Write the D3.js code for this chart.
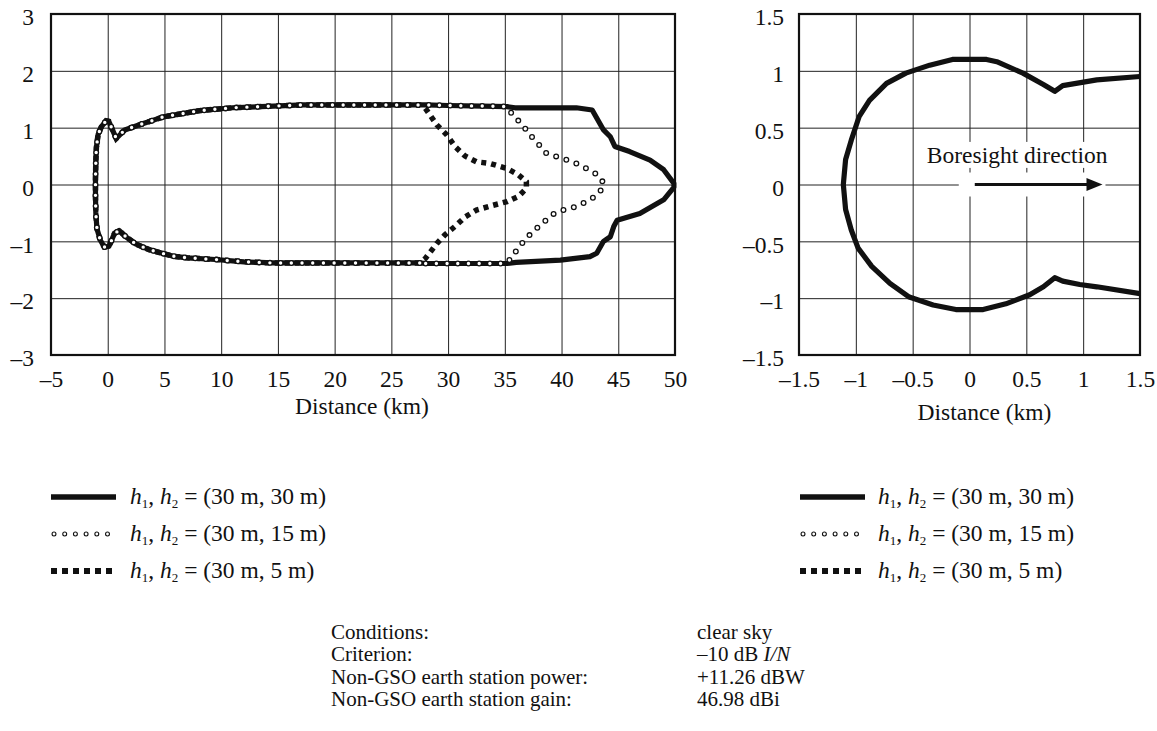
<!DOCTYPE html>
<html lang="en">
<head>
<meta charset="UTF-8" />
<title>Interference contours</title>
<script src="https://cdn.jsdelivr.net/npm/d3@7"></script>
<style>
  body { margin: 0; background: #fff; }
  svg { display: block; background: #fff; font-family: "Liberation Serif", "Times New Roman", serif; fill: #111; }
  .tick text { font-size: 23.5px; fill: #111; }
  .grid line { stroke: #222; stroke-width: 1; }
  .frame { fill: none; stroke: #111; stroke-width: 2.2; }
  .txt { font-size: 23.5px; fill: #111; }
</style>
</head>
<body>
<div id="chart"></div>
<script>
// ---- data (km) ----
// part shared by all three contours, from lower branch round the nose to upper branch
const noseCommon = [
  [27.5, -1.38], [20, -1.38], [14.5, -1.38], [12, -1.36], [9.5, -1.32], [7, -1.29], [5.7, -1.26],
  [3.7, -1.15], [2.5, -1.05], [1.6, -0.92], [1.0, -0.81], [0.6, -0.86], [0.3, -1.0], [0.1, -1.09],
  [-0.3, -1.1], [-0.65, -0.98], [-0.95, -0.78], [-1.05, -0.5], [-1.08, -0.2], [-1.08, 0.1],
  [-1.05, 0.4], [-1.0, 0.65], [-0.85, 0.88], [-0.55, 1.02], [-0.15, 1.12], [0.1, 1.11],
  [0.4, 0.97], [0.75, 0.81], [1.1, 0.88], [1.5, 0.96], [2.8, 1.05], [4.9, 1.19], [8.1, 1.3],
  [11, 1.35], [14.6, 1.38], [17.2, 1.4], [27.5, 1.4]
];
// shared by 30 m and 15 m contours
const upperMid = [[28, 1.4], [30, 1.39], [33, 1.38], [35.2, 1.37]];
const lowerMid = [[35.2, -1.39], [33, -1.39], [30, -1.39], [28, -1.39]];

const tail30 = [
  [35.9, 1.35], [41.3, 1.35], [42.7, 1.31], [43.7, 0.96], [44.3, 0.84], [44.7, 0.67], [46, 0.58],
  [47.8, 0.43], [49, 0.26], [49.9, 0.02], [49.9, -0.05], [49, -0.27], [46.9, -0.51], [44.9, -0.63],
  [44.6, -0.74], [44.3, -0.92], [43.7, -1.0], [43.1, -1.21], [42.5, -1.27], [39.9, -1.33], [36, -1.37]
];
const tail15 = [
  [35.6, 1.25], [36.3, 1.1], [36.9, 0.96], [37.5, 0.81], [38.1, 0.68], [38.7, 0.54], [39.6, 0.49],
  [40.5, 0.43], [41.3, 0.37], [42.2, 0.28], [43.1, 0.18], [43.7, 0.03], [43.7, -0.05], [42.96, -0.21],
  [42.2, -0.3], [41.3, -0.39], [40.3, -0.44], [39.4, -0.5], [38.2, -0.7], [37.5, -0.83], [36.8, -0.96],
  [36.2, -1.12], [35.6, -1.27]
];
const tail5 = [
  [28.0, 1.34], [29.0, 1.05], [29.9, 0.87], [30.6, 0.67], [31.5, 0.5], [32.5, 0.4], [33.7, 0.37],
  [35.2, 0.28], [36.2, 0.17], [36.9, 0.05], [36.9, -0.07], [36.2, -0.21], [35.2, -0.3], [33.7, -0.38],
  [32.5, -0.45], [31.5, -0.57], [30.6, -0.74], [29.7, -0.89], [29.0, -1.04], [28.0, -1.3]
];

const contour30 = [...noseCommon, ...upperMid, ...tail30, ...lowerMid];
const contour15 = [...noseCommon, ...upperMid, ...tail15, ...lowerMid];
const contour5 = [...noseCommon, ...tail5];

// zoomed panel (all three heights coincide)
const closeContour = [
  [1.5, 0.95], [1.12, 0.92], [0.82, 0.87], [0.75, 0.82], [0.65, 0.88], [0.47, 0.98], [0.24, 1.08],
  [0.15, 1.1], [-0.15, 1.1], [-0.35, 1.05], [-0.56, 0.98], [-0.73, 0.89], [-0.88, 0.74], [-0.97, 0.6],
  [-1.04, 0.39], [-1.09, 0.22], [-1.11, 0.0], [-1.09, -0.22], [-1.04, -0.4], [-0.98, -0.56],
  [-0.86, -0.72], [-0.7, -0.87], [-0.53, -0.99], [-0.32, -1.06], [-0.12, -1.1], [0.12, -1.1],
  [0.32, -1.05], [0.53, -0.97], [0.65, -0.9], [0.75, -0.82], [0.82, -0.85], [0.97, -0.88],
  [1.12, -0.9], [1.5, -0.96]
];

const leftXTicks = d3.range(-5, 51, 5);
const leftYTicks = [-3, -2, -1, 0, 1, 2, 3];
const rightTicks = [-1.5, -1, -0.5, 0, 0.5, 1, 1.5];

const arrowFrom = [0.02, 0];
const arrowTo = [1.17, 0];
const arrowLabel = "Boresight direction";
const arrowLabelAt = [0.42, 0.19];

const axisTitle = "Distance (km)";
const legendLabels = ["(30 m, 30 m)", "(30 m, 15 m)", "(30 m, 5 m)"];
const legendStyles = ["solid", "circles", "squares"];
const noteLabels = ["Conditions:", "Criterion:", "Non-GSO earth station power:", "Non-GSO earth station gain:"];
const noteValues = ["clear sky", "–10 dB |I/N", "+11.26 dBW", "46.98 dBi"];

// ---- drawing ----
const W = 1157, H = 731;
const svg = d3.select("#chart").append("svg").attr("width", W).attr("height", H);

const fmt = d => (d < 0 ? "\u2013" : "") + Math.abs(d);

function panel(opt) {
  const w = opt.width, h = opt.height;
  const g = svg.append("g").attr("transform", `translate(${opt.left},${opt.top})`);
  const x = d3.scaleLinear().domain(opt.xDomain).range([0, w]);
  const y = d3.scaleLinear().domain(opt.yDomain).range([h, 0]);

  g.append("g").attr("class", "grid").attr("transform", `translate(0,${h})`)
    .call(d3.axisBottom(x).tickValues(opt.xTicks).tickSize(-h).tickFormat(""))
    .call(a => a.select(".domain").remove());
  g.append("g").attr("class", "grid")
    .call(d3.axisLeft(y).tickValues(opt.yTicks).tickSize(-w).tickFormat(""))
    .call(a => a.select(".domain").remove());

  g.append("g").attr("transform", `translate(0,${h})`)
    .call(d3.axisBottom(x).tickValues(opt.xTicks).tickSize(0).tickPadding(15).tickFormat(fmt))
    .call(a => a.select(".domain").remove())
    .attr("font-family", null).attr("font-size", null);
  g.append("g")
    .call(d3.axisLeft(y).tickValues(opt.yTicks).tickSize(0).tickPadding(opt.yPad).tickFormat(fmt))
    .call(a => a.select(".domain").remove())
    .attr("font-family", null).attr("font-size", null)
    .selectAll("text").attr("dy", "0.46em");

  g.append("text").attr("class", "txt")
    .attr("x", w / 2 + opt.titleShift).attr("y", opt.titleY)
    .attr("text-anchor", "middle").text(axisTitle);

  return { g, x, y, w, h };
}

const L = panel({ left: 51, top: 14, width: 624, height: 341, xDomain: [-5, 50], yDomain: [-3, 3],
  xTicks: leftXTicks, yTicks: leftYTicks, yPad: 17, titleY: 400, titleShift: -1 });
const R = panel({ left: 799, top: 14, width: 341, height: 341, xDomain: [-1.5, 1.5], yDomain: [-1.5, 1.5],
  xTicks: rightTicks, yTicks: rightTicks, yPad: 15, titleY: 406, titleShift: 15 });

function drawSeries(P, pts, style, closed) {
  const line = d3.line().x(d => P.x(d[0])).y(d => P.y(d[1]));
  const dpath = line(pts) + (closed ? "Z" : "");
  if (style === "solid") {
    P.g.append("path").attr("d", dpath).attr("fill", "none").attr("stroke", "#111")
      .attr("stroke-width", 5.2).attr("stroke-linejoin", "round");
  } else if (style === "squares") {
    P.g.append("path").attr("d", dpath).attr("fill", "none").attr("stroke", "#111")
      .attr("stroke-width", 5.5).attr("stroke-dasharray", "5 5");
  } else {
    P.g.append("path").attr("d", dpath).attr("fill", "none").attr("stroke", "#111")
      .attr("stroke-width", 6).attr("stroke-linecap", "round").attr("stroke-dasharray", "0 10.7");
    P.g.append("path").attr("d", dpath).attr("fill", "none").attr("stroke", "#fff")
      .attr("stroke-width", 3.4).attr("stroke-linecap", "round").attr("stroke-dasharray", "0 10.7");
  }
}

drawSeries(L, contour30, "solid", true);
drawSeries(L, contour5, "squares", true);
drawSeries(L, contour15, "circles", true);
drawSeries(R, closeContour, "solid", false);

// boresight arrow with white backing
const ax0 = R.x(arrowFrom[0]), ax1 = R.x(arrowTo[0]), ay = R.y(arrowFrom[1]);
R.g.append("rect").attr("x", ax0 - 13).attr("y", ay - 12).attr("width", ax1 - ax0 + 16).attr("height", 24).attr("fill", "#fff");
R.g.append("line").attr("x1", ax0 + 3).attr("x2", ax1 - 12).attr("y1", ay).attr("y2", ay)
  .attr("stroke", "#111").attr("stroke-width", 3);
R.g.append("path").attr("d", `M${ax1},${ay}L${ax1 - 16},${ay - 6.5}L${ax1 - 16},${ay + 6.5}Z`).attr("fill", "#111");
const lbl = R.g.append("text").attr("class", "txt").attr("x", R.x(arrowLabelAt[0])).attr("y", R.y(arrowLabelAt[1]))
  .attr("text-anchor", "middle").text(arrowLabel);
const bb = lbl.node().getBBox();
R.g.append("rect").attr("x", bb.x - 3).attr("y", bb.y).attr("width", bb.width + 6)
  .attr("height", bb.height).attr("fill", "#fff");
lbl.raise();

// frames on top
[L, R].forEach(P => P.g.append("rect").attr("class", "frame").attr("width", P.w).attr("height", P.h));

// legends
function legend(x0, symW, textX) {
  const g = svg.append("g");
  legendLabels.forEach((lab, i) => {
    const cy = 497 + i * 37;
    const style = legendStyles[i];
    const dpath = `M${x0},${cy}H${x0 + symW}`;
    if (style === "solid") {
      g.append("path").attr("d", dpath).attr("stroke", "#111").attr("stroke-width", 5.5);
    } else if (style === "squares") {
      g.append("path").attr("d", dpath).attr("stroke", "#111").attr("stroke-width", 6).attr("stroke-dasharray", "6 5");
    } else {
      const dp = `M${x0 + 3},${cy}H${x0 + symW - 6}`;
      g.append("path").attr("d", dp).attr("stroke", "#111").attr("stroke-width", 5)
        .attr("stroke-linecap", "round").attr("stroke-dasharray", "0 10.7");
      g.append("path").attr("d", dp).attr("stroke", "#fff").attr("stroke-width", 2.8)
        .attr("stroke-linecap", "round").attr("stroke-dasharray", "0 10.7");
    }
    const t = g.append("text").attr("class", "txt").attr("x", textX).attr("y", cy + 7);
    t.append("tspan").attr("font-style", "italic").text("h");
    t.append("tspan").style("font-size", "13px").attr("dy", 4).text("1");
    t.append("tspan").attr("dy", -4).text(", ");
    t.append("tspan").attr("font-style", "italic").text("h");
    t.append("tspan").style("font-size", "13px").attr("dy", 4).text("2");
    t.append("tspan").attr("dy", -4).text(" = " + lab);
  });
}
legend(51, 65, 130);
legend(800, 65, 878);

// conditions block
const notes = svg.append("g");
noteLabels.forEach((lab, i) => {
  const yy = 639 + i * 22.3;
  notes.append("text").attr("class", "txt").style("font-size", "21px")
    .attr("x", 331).attr("y", yy).text(lab);
  const parts = noteValues[i].split("|");
  const t = notes.append("text").attr("class", "txt").style("font-size", "21px").attr("x", 697).attr("y", yy);
  t.append("tspan").text(parts[0]);
  if (parts[1]) t.append("tspan").attr("font-style", "italic").text(parts[1]);
});
</script>
</body>
</html>
